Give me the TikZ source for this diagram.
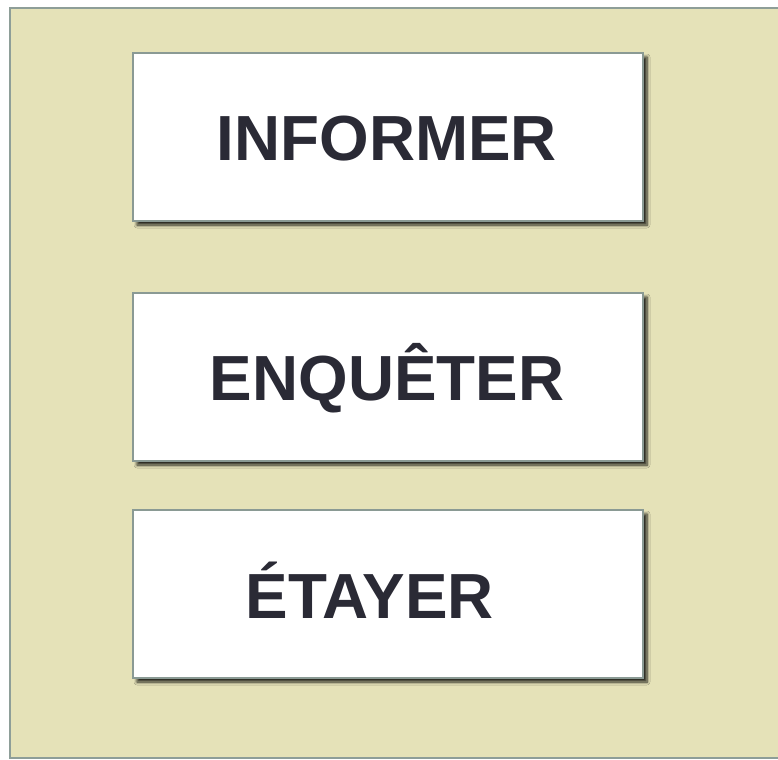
\documentclass[tikz,border=0pt]{standalone}
\usepackage{fontspec}
\setmainfont{Liberation Sans}
\usetikzlibrary{shadows.blur}
\definecolor{bgfill}{HTML}{E5E2B8}
\definecolor{bgline}{HTML}{8E9E98}
\definecolor{boxline}{HTML}{8A9A94}
\definecolor{txt}{HTML}{2A2A35}
\tikzset{
  panel/.style={draw=bgline, line width=1.8bp, fill=bgfill},
  card/.style={draw=boxline, line width=1.5bp, fill=white, minimum width=510bp, minimum height=168bp, inner sep=0pt,
    blur shadow={shadow xshift=4bp, shadow yshift=-4bp, shadow blur steps=6, shadow blur radius=3bp, shadow opacity=85}},
  label/.style={font=\fontsize{64}{70}\selectfont\bfseries, text=txt, inner sep=0pt}
}
\begin{document}
\begin{tikzpicture}[x=1bp,y=-1bp]
\useasboundingbox (0,0) rectangle (778,760);
\draw[panel] (10,8) rectangle (790,758);
\node[card] (b1) at (388,137) {};
\node[card] (b2) at (388,377) {};
\node[card] (b3) at (388,594) {};
\node[label] (t1) at (387,139) {INFORMER};
\node[label] (t2) at (387,378) {ENQUÊTER};
\node[label] (t3) at (370,590) {ÉTAYER};
\end{tikzpicture}
\end{document}
